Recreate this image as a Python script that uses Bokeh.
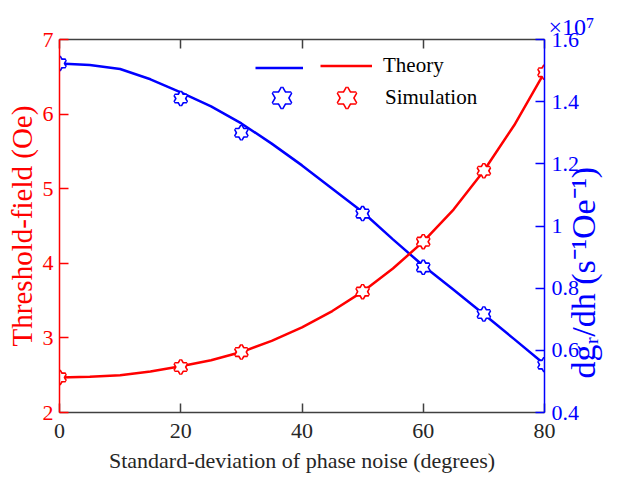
import math
from bokeh.plotting import figure
from bokeh.models import (Range1d, LinearAxis, FixedTicker, Legend, LegendItem)
from bokeh.embed import file_html
from bokeh.resources import INLINE

# ---------------- data ----------------
x_theory = [0, 5, 10, 15, 20, 25, 30, 35, 40, 45, 50, 55, 60, 65, 70, 75, 80]
thr_theory = [2.47, 2.48, 2.50, 2.55, 2.62, 2.70, 2.81, 2.96, 3.14, 3.36, 3.62,
              3.93, 4.29, 4.72, 5.24, 5.85, 6.56]
dg_theory = [1.523, 1.518, 1.505, 1.472, 1.430, 1.385, 1.330, 1.265, 1.195, 1.120,
             1.045, 0.957, 0.872, 0.795, 0.716, 0.636, 0.555]   # x 1e7

x_sim = [0, 20, 30, 50, 60, 70, 80]
thr_sim = [2.47, 2.61, 2.81, 3.62, 4.29, 5.24, 6.56]
dg_sim = [1.523, 1.41, 1.30, 1.04, 0.867, 0.717, 0.554]          # x 1e7

x_ticks = [0, 20, 40, 60, 80]
left_ticks = [2, 3, 4, 5, 6, 7]
right_ticks = [0.4, 0.6, 0.8, 1.0, 1.2, 1.4, 1.6]
right_tick_labels = ["0.4", "0.6", "0.8", "1", "1.2", "1.4", "1.6"]

FONT = "Liberation Serif"
RED = "#ff0000"
BLUE = "#0000ff"
DARK = "#262626"
GREY = "#404040"

p = figure(width=624, height=477, output_backend="svg", toolbar_location=None,
           x_range=Range1d(0, 80), y_range=Range1d(2, 7),
           x_axis_location=None, y_axis_location=None,
           min_border_left=59, min_border_right=80, min_border_top=39, min_border_bottom=65)
p.extra_y_ranges = {"dg": Range1d(0.4, 1.6)}
p.outline_line_color = None
p.xgrid.visible = False
p.ygrid.visible = False
p.background_fill_color = "white"
p.border_fill_color = "white"

# exponent shown via the title
p.title.text = "×10⁷"
p.title.align = "left"
p.title.offset = 489
p.title.standoff = 0
p.title.text_font = FONT
p.title.text_font_size = "24px"
p.title.text_font_style = "normal"
p.title.text_color = BLUE


def style_axis(ax, line_color, label_color, size="22px"):
    ax.major_tick_in = 9
    ax.major_tick_out = 0
    ax.minor_tick_line_color = None
    ax.axis_line_color = line_color
    ax.axis_line_width = 1.5
    ax.major_tick_line_color = line_color
    ax.major_tick_line_width = 1.5
    ax.major_label_text_font = FONT
    ax.major_label_text_font_size = size
    ax.major_label_text_color = label_color
    ax.axis_label_text_font = FONT
    ax.axis_label_text_font_style = "normal"


bottom = LinearAxis(ticker=FixedTicker(ticks=x_ticks),
                    axis_label="Standard-deviation of phase noise (degrees)")
style_axis(bottom, GREY, DARK)
bottom.major_label_standoff = 11
bottom.axis_label_standoff = 7
bottom.axis_label_text_font_size = "22px"
bottom.axis_label_text_color = DARK
p.add_layout(bottom, "below")

top = LinearAxis(ticker=FixedTicker(ticks=x_ticks))
style_axis(top, GREY, DARK, size="1px")
top.major_label_text_alpha = 0
top.major_label_standoff = 0
p.add_layout(top, "above")

left = LinearAxis(ticker=FixedTicker(ticks=left_ticks), axis_label="Threshold-field (Oe)")
style_axis(left, RED, RED)
left.major_label_standoff = 6
left.axis_label_standoff = 2
left.axis_label_text_font_size = "29px"
left.axis_label_text_color = RED
p.add_layout(left, "left")

right = LinearAxis(y_range_name="dg", ticker=FixedTicker(ticks=right_ticks),
                   major_label_overrides=dict(zip(right_ticks, right_tick_labels)),
                   axis_label="\u00a0\u00a0\u00a0\u00a0dgᵣ/dh (s⁻¹Oe⁻¹)")
style_axis(right, BLUE, BLUE)
right.major_label_standoff = 7
right.axis_label_standoff = 1
right.axis_label_text_font_size = "34px"
right.axis_label_text_color = BLUE
try:
    right.axis_label_orientation = math.pi / 2
except Exception:
    pass
try:
    right.axis_label_align = "start"
except Exception:
    pass
p.add_layout(right, "right")

# ---------------- curves ----------------
blue_line = p.line(x_theory, dg_theory, line_color=BLUE, line_width=2.5, y_range_name="dg")
red_line = p.line(x_theory, thr_theory, line_color=RED, line_width=2.5)


def hexagram(xs, ys, color, size, range_name="default"):
    rs = []
    for mk in ("triangle", "inverted_triangle"):
        rs.append(p.scatter(xs, ys, marker=mk, size=size, line_color=color, line_width=3.2,
                            fill_color="white", y_range_name=range_name))
    for mk in ("triangle", "inverted_triangle"):
        rs.append(p.scatter(xs, ys, marker=mk, size=size, line_color=None,
                            fill_color="white", y_range_name=range_name))
    return rs


blue_stars = hexagram(x_sim, dg_sim, BLUE, 12, "dg")
red_stars = hexagram(x_sim, thr_sim, RED, 12)


# ---------------- legend (two columns of symbols) ----------------
def make_legend(items, loc, gw, gh, standoff):
    lg = Legend(items=items, location=loc, padding=0, margin=0, spacing=0,
                glyph_width=gw, glyph_height=gh, label_height=21, label_standoff=standoff,
                label_text_font=FONT, label_text_font_size="21px", label_text_color="#000000",
                border_line_alpha=0, background_fill_alpha=0)
    p.add_layout(lg)


make_legend([LegendItem(label=" ", renderers=[blue_line])], (196, 334), 48, 21, 0)
make_legend([LegendItem(label="Theory", renderers=[red_line])], (261, 334), 52, 21, 11)
make_legend([LegendItem(label=" ", renderers=blue_stars)], (200, 292), 45, 45, 0)
make_legend([LegendItem(label="Simulation", renderers=red_stars)], (265, 292), 45, 45, 16)

open("out.html", "w").write(file_html(p, INLINE))
